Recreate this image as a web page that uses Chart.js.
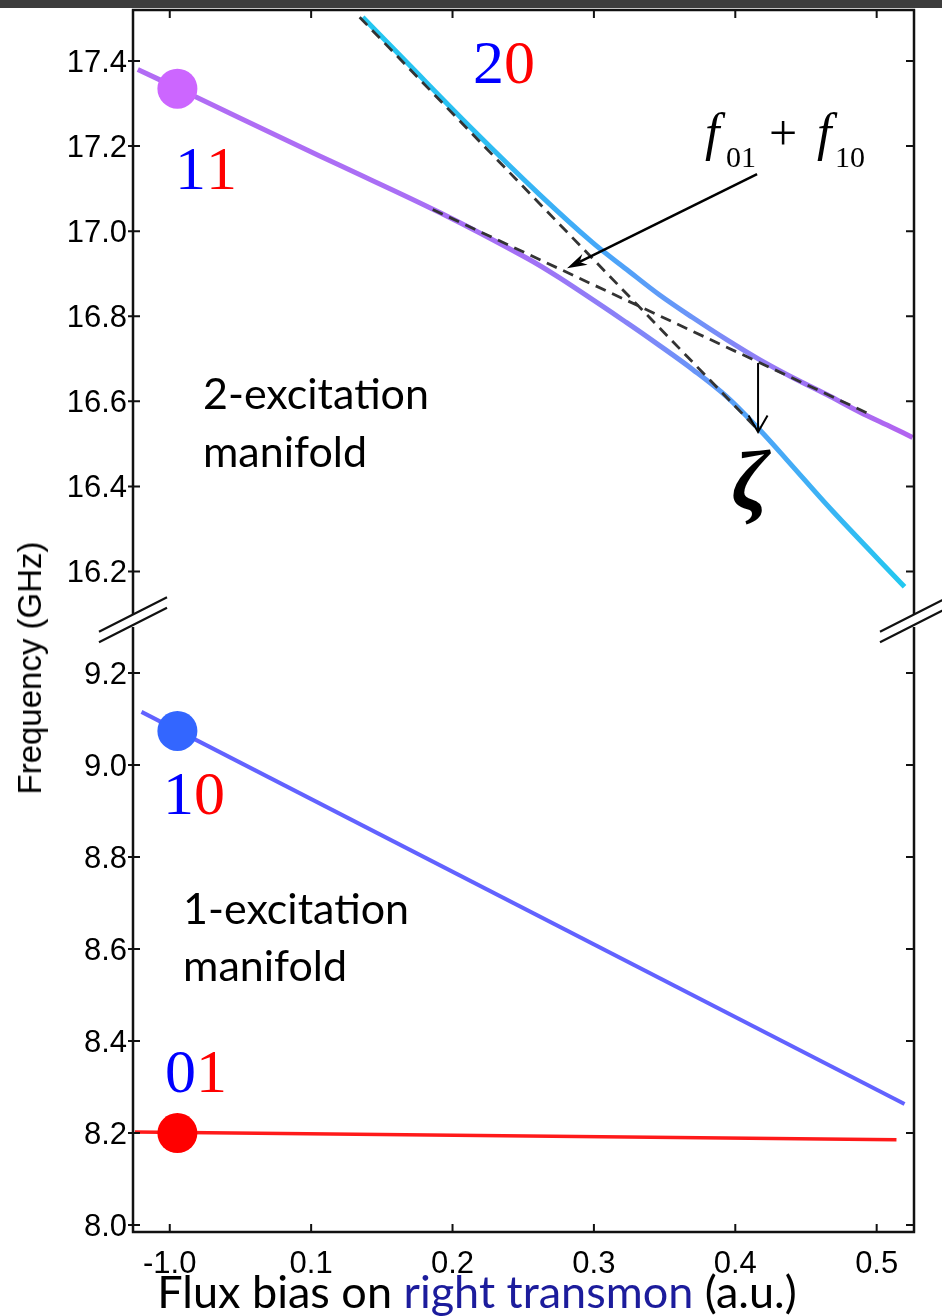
<!DOCTYPE html>
<html>
<head>
<meta charset="utf-8">
<title>Two-transmon spectrum</title>
<script src="https://cdn.jsdelivr.net/npm/chart.js@4.4.0/dist/chart.umd.min.js"></script>
<style>
  body { margin: 0; background: #fff; width: 942px; height: 1316px; overflow: hidden; position: relative; }
  #bar { position: absolute; left: 0; top: 0; width: 942px; height: 8px; background: #3d3d3d; z-index: 5; }
  #topChart { position: absolute; left: 0; top: 0; }
  #botChart { position: absolute; left: 0; top: 620px; }
  #ylabel { position: absolute; left: 30px; top: 668px; transform: translate(-50%, -50%) rotate(-90deg);
            font: 33px "Liberation Sans", Arial, sans-serif; white-space: nowrap; color: #000; }
</style>
</head>
<body>
<div id="bar"></div>
<canvas id="topChart" width="942" height="660"></canvas>
<canvas id="botChart" width="942" height="696"></canvas>
<div id="ylabel">Frequency (GHz)</div>
<script>
// flux axis
const fluxMin = -0.026, fluxMax = 0.5264;
const xTicks = [0, 0.1, 0.2, 0.3, 0.4, 0.5];
const xTickLabels = ['-1.0', '0.1', '0.2', '0.3', '0.4', '0.5'];

// broken frequency axis (GHz)
const yTopRange = [16.1, 17.52];
const yBotRange = [7.985, 9.3];
const yTicksTop = [16.2, 16.4, 16.6, 16.8, 17.0, 17.2, 17.4];
const yTicksBottom = [8.0, 8.2, 8.4, 8.6, 8.8, 9.0, 9.2];

// 2-excitation manifold, dressed branches
const lowerFlux = [-0.0226, 0.0057, 0.0919, 0.1202, 0.1909, 0.2524, 0.2758, 0.3232, 0.3465, 0.3698, 0.3939, 0.4172, 0.4363, 0.4688, 0.5197];
const lowerFreq = [17.380, 17.336, 17.199, 17.155, 17.044, 16.937, 16.890, 16.785, 16.731, 16.675, 16.611, 16.533, 16.463, 16.342, 16.164];
const upperFlux = [0.1365, 0.1676, 0.2143, 0.2616, 0.2991, 0.3232, 0.3465, 0.3698, 0.3939, 0.4172, 0.4405, 0.4646, 0.4879, 0.5113, 0.5254];
const upperFreq = [17.503, 17.397, 17.239, 17.086, 16.973, 16.910, 16.850, 16.797, 16.745, 16.698, 16.656, 16.616, 16.575, 16.538, 16.515];

// bare levels (dashed): |20> and f01 + f10
const bare20Flux = [0.1343, 0.4172];
const bare20Freq = [17.503, 16.529];
const sumFlux = [0.1860, 0.4929];
const sumFreq = [17.051, 16.573];

// 1-excitation manifold
const f10Flux = [-0.0200, 0.5197];
const f10Freq = [9.1155, 8.2633];
const f01Flux = [-0.0247, 0.5140];
const f01Freq = [8.2026, 8.1853];

// idle points
const dotFlux = [0.0054];
const dot11 = [17.335];
const dot10 = [9.074];
const dot01 = [8.200];

const pts = (xs, ys) => xs.map((x, i) => ({ x: x, y: ys[i] }));

const tickFont = '31px "Liberation Sans", Arial, sans-serif';
const serif = '"Liberation Serif", "Times New Roman", serif';

function branchGradient(stops) {
  return function (c) {
    const chart = c.chart;
    const a = chart.chartArea;
    if (!a) return stops[0][1];
    const g = chart.ctx.createLinearGradient(a.left, 0, a.right, 0);
    stops.forEach(([v, col]) => {
      const p = (chart.scales.x.getPixelForValue(v) - a.left) / (a.right - a.left);
      g.addColorStop(Math.min(1, Math.max(0, p)), col);
    });
    return g;
  };
}

function noPad(s) {
  s.paddingTop = 0; s.paddingBottom = 0; s.paddingLeft = 0; s.paddingRight = 0;
}

function axes(yRange, yTicks, xHeight) {
  return {
    x: {
      type: 'linear', min: fluxMin, max: fluxMax,
      grid: { display: false }, border: { display: false },
      afterBuildTicks: s => { s.ticks = xTicks.map(v => ({ value: v })); },
      afterFit: s => { s.height = xHeight; noPad(s); },
      ticks: { display: false }
    },
    y: {
      type: 'linear', min: yRange[0], max: yRange[1],
      grid: { display: false }, border: { display: false },
      afterBuildTicks: s => { s.ticks = yTicks.map(v => ({ value: v })); },
      afterFit: s => { s.width = 133; noPad(s); },
      ticks: { display: false }
    }
  };
}

function tickText(ctx, s, x, y, align) {
  ctx.font = tickFont;
  ctx.fillStyle = '#000';
  ctx.textAlign = align;
  ctx.textBaseline = 'alphabetic';
  ctx.fillText(s, x, y);
}

// box with inward ticks; the top panel also carries the axis-break marks
function framePlugin(side) {
  return {
    id: 'frame',
    afterDraw(chart) {
      const { ctx, chartArea: a } = chart;
      const xs = chart.scales.x, ys = chart.scales.y;
      ctx.save();
      ctx.strokeStyle = '#111';
      ctx.lineWidth = 2.5;
      ctx.beginPath();
      ctx.moveTo(a.left, a.top); ctx.lineTo(a.left, a.bottom);
      ctx.moveTo(a.right, a.top); ctx.lineTo(a.right, a.bottom);
      if (side === 'top') { ctx.moveTo(a.left - 1.2, a.top); ctx.lineTo(a.right + 1.2, a.top); }
      else { ctx.moveTo(a.left - 1.2, a.bottom); ctx.lineTo(a.right + 1.2, a.bottom); }
      ctx.stroke();
      ctx.lineWidth = 2;
      ctx.beginPath();
      ys.ticks.forEach(t => {
        const py = ys.getPixelForValue(t.value);
        ctx.moveTo(a.left - 5, py); ctx.lineTo(a.left + 7, py);
        ctx.moveTo(a.right - 8, py); ctx.lineTo(a.right + 1, py);
      });
      xs.ticks.forEach(t => {
        const px = xs.getPixelForValue(t.value);
        if (side === 'top') { ctx.moveTo(px, a.top); ctx.lineTo(px, a.top + 8); }
        else { ctx.moveTo(px, a.bottom); ctx.lineTo(px, a.bottom - 8); }
      });
      ctx.stroke();

      ys.ticks.forEach(t => {
        tickText(ctx, t.value.toFixed(1), a.left - 6, ys.getPixelForValue(t.value) + 11, 'right');
      });
      if (side === 'bottom') {
        xs.ticks.forEach((t, i) => {
          tickText(ctx, xTickLabels[i], xs.getPixelForValue(t.value), a.bottom + 41, 'center');
        });
      }

      if (side === 'top') {
        ctx.lineWidth = 2.2;
        ctx.beginPath();
        [a.left, a.right].forEach(bx => {
          [a.bottom + 0.5, a.bottom + 11].forEach(by => {
            ctx.moveTo(bx - 34, by + 17.2);
            ctx.lineTo(bx + 34, by - 17.2);
          });
        });
        ctx.stroke();
      }
      ctx.restore();
    }
  };
}

function stateLabel(ctx, a, b, cx, base) {
  ctx.font = '62px ' + serif;
  ctx.textAlign = 'left';
  ctx.textBaseline = 'alphabetic';
  const wa = ctx.measureText(a).width, wb = ctx.measureText(b).width;
  const x0 = cx - (wa + wb) / 2;
  ctx.fillStyle = '#0000ff'; ctx.fillText(a, x0, base);
  ctx.fillStyle = '#ff0000'; ctx.fillText(b, x0 + wa, base);
}

function manifoldLabel(ctx, lines, x, ys) {
  ctx.font = '43px Lato, "Open Sans", sans-serif';
  ctx.fillStyle = '#000';
  ctx.textAlign = 'left';
  ctx.textBaseline = 'middle';
  lines.forEach((s, i) => ctx.fillText(s, x, ys[i]));
}

function arrow(ctx, x1, y1, x2, y2, filled) {
  const ang = Math.atan2(y2 - y1, x2 - x1);
  const back = filled ? 14 : 0;
  ctx.strokeStyle = '#000';
  ctx.fillStyle = '#000';
  ctx.lineWidth = filled ? 2.5 : 2;
  ctx.beginPath();
  ctx.moveTo(x1, y1);
  ctx.lineTo(x2 - back * Math.cos(ang), y2 - back * Math.sin(ang));
  ctx.stroke();
  if (filled) {
    const L = 20, W = 6;
    ctx.beginPath();
    ctx.moveTo(x2, y2);
    ctx.lineTo(x2 - L * Math.cos(ang) + W * Math.sin(ang), y2 - L * Math.sin(ang) - W * Math.cos(ang));
    ctx.lineTo(x2 - 0.7 * L * Math.cos(ang), y2 - 0.7 * L * Math.sin(ang));
    ctx.lineTo(x2 - L * Math.cos(ang) - W * Math.sin(ang), y2 - L * Math.sin(ang) + W * Math.cos(ang));
    ctx.closePath();
    ctx.fill();
  } else {
    const L = 19, h = Math.PI / 6;
    ctx.beginPath();
    ctx.moveTo(x2 - L * Math.cos(ang - h), y2 - L * Math.sin(ang - h));
    ctx.lineTo(x2, y2);
    ctx.lineTo(x2 - L * Math.cos(ang + h), y2 - L * Math.sin(ang + h));
    ctx.stroke();
  }
}

const topNotes = {
  id: 'topNotes',
  afterDraw(chart) {
    const ctx = chart.ctx;
    const P = (fx, fy) => [chart.scales.x.getPixelForValue(fx), chart.scales.y.getPixelForValue(fy)];
    ctx.save();
    stateLabel(ctx, '2', '0', ...P(0.2364, 17.348));
    stateLabel(ctx, '1', '1', ...P(0.0256, 17.099));

    // f01 + f10 label
    const [fx, fb] = P(0.3786, 17.191);
    ctx.fillStyle = '#000';
    ctx.textAlign = 'left';
    ctx.textBaseline = 'alphabetic';
    ctx.font = 'italic 52px ' + serif; ctx.fillText('f', fx, fb);
    ctx.font = '30px ' + serif; ctx.fillText('01', fx + 21, fb + 17);
    ctx.font = '50px ' + serif; ctx.fillText('+', fx + 64, fb);
    ctx.font = 'italic 52px ' + serif; ctx.fillText('f', fx + 112, fb);
    ctx.font = '30px ' + serif; ctx.fillText('10', fx + 130, fb + 17);

    arrow(ctx, ...P(0.4154, 17.134), ...P(0.2810, 16.913), true);
    arrow(ctx, ...P(0.4161, 16.690), ...P(0.4161, 16.528), false);

    const [zx, zb] = P(0.4104, 16.347);
    ctx.fillStyle = '#000';
    ctx.font = 'italic bold 84px ' + serif;
    ctx.textAlign = 'center';
    ctx.fillText('\u03B6', zx, zb);

    const [mx, m1] = P(0.0235, 16.615);
    const m2 = chart.scales.y.getPixelForValue(16.4785);
    manifoldLabel(ctx, ['2-excitation', 'manifold'], mx, [m1, m2]);
    ctx.restore();
  }
};

const botNotes = {
  id: 'botNotes',
  afterDraw(chart) {
    const ctx = chart.ctx;
    const P = (fx, fy) => [chart.scales.x.getPixelForValue(fx), chart.scales.y.getPixelForValue(fy)];
    ctx.save();
    stateLabel(ctx, '1', '0', ...P(0.0171, 8.8935));
    stateLabel(ctx, '0', '1', ...P(0.0186, 8.2893));
    const [mx, m1] = P(0.0094, 8.685);
    const m2 = chart.scales.y.getPixelForValue(8.561);
    manifoldLabel(ctx, ['1-excitation', 'manifold'], mx, [m1, m2]);

    // axis title with the coloured middle part
    const parts = [['Flux bias on ', '#000'], ['right transmon', '#1c1c9c'], [' (a.u.)', '#000']];
    ctx.font = '45px Lato, "Open Sans", sans-serif';
    ctx.textAlign = 'left';
    ctx.textBaseline = 'alphabetic';
    const total = parts.reduce((s, p) => s + ctx.measureText(p[0]).width, 0);
    let tx = chart.chartArea.left + 344 - total / 2;
    const ty = chart.chartArea.bottom + 76;
    parts.forEach(([s, col]) => {
      ctx.fillStyle = col;
      ctx.fillText(s, tx, ty);
      tx += ctx.measureText(s).width;
    });
    ctx.restore();
  }
};

const dashed = { borderColor: '#333', borderWidth: 2.8, borderDash: [11, 7], pointRadius: 0, fill: false };
const dot = (color) => ({ showLine: false, pointRadius: 20, pointHoverRadius: 20, pointBackgroundColor: color, pointBorderWidth: 0 });

new Chart(document.getElementById('topChart'), {
  type: 'line',
  data: {
    datasets: [
      { label: '11', data: pts(dotFlux, dot11), ...dot('#cc66ff'), order: 0 },
      { label: '20 bare', data: pts(bare20Flux, bare20Freq), ...dashed, order: 1 },
      { label: 'f01 + f10', data: pts(sumFlux, sumFreq), ...dashed, order: 1 },
      {
        label: 'lower', data: pts(lowerFlux, lowerFreq), borderWidth: 5, pointRadius: 0,
        tension: 0.35, order: 2,
        borderColor: branchGradient([[0.0, '#b26cf4'], [0.25, '#a470f5'], [0.33, '#8484f8'], [0.40, '#55a0f8'], [0.46, '#3cb2f5'], [0.52, '#22c8f0']])
      },
      {
        label: 'upper', data: pts(upperFlux, upperFreq), borderWidth: 5, pointRadius: 0,
        tension: 0.35, order: 2,
        borderColor: branchGradient([[0.13, '#22c8f0'], [0.22, '#2cbef2'], [0.30, '#44a8f8'], [0.37, '#6c94f8'], [0.43, '#9a78f5'], [0.52, '#b264f0']])
      }
    ]
  },
  options: {
    responsive: false,
    animation: false,
    layout: { autoPadding: false, padding: { left: 0, right: 28, top: 10, bottom: 46 } },
    plugins: { legend: { display: false }, tooltip: { enabled: false } },
    scales: axes(yTopRange, yTicksTop, 0)
  },
  plugins: [framePlugin('top'), topNotes]
});

new Chart(document.getElementById('botChart'), {
  type: 'line',
  data: {
    datasets: [
      { label: '10', data: pts(dotFlux, dot10), ...dot('#3366ff'), order: 0 },
      { label: '01', data: pts(dotFlux, dot01), ...dot('#ff0000'), order: 0 },
      { label: 'f10', data: pts(f10Flux, f10Freq), borderColor: '#6262ff', borderWidth: 4, pointRadius: 0, order: 1 },
      { label: 'f01', data: pts(f01Flux, f01Freq), borderColor: '#ff1a1a', borderWidth: 3.5, pointRadius: 0, order: 1 }
    ]
  },
  options: {
    responsive: false,
    animation: false,
    layout: { autoPadding: false, padding: { left: 0, right: 28, top: 7, bottom: 0 } },
    plugins: { legend: { display: false }, tooltip: { enabled: false } },
    scales: axes(yBotRange, yTicksBottom, 84)
  },
  plugins: [framePlugin('bottom'), botNotes]
});
</script>
</body>
</html>
